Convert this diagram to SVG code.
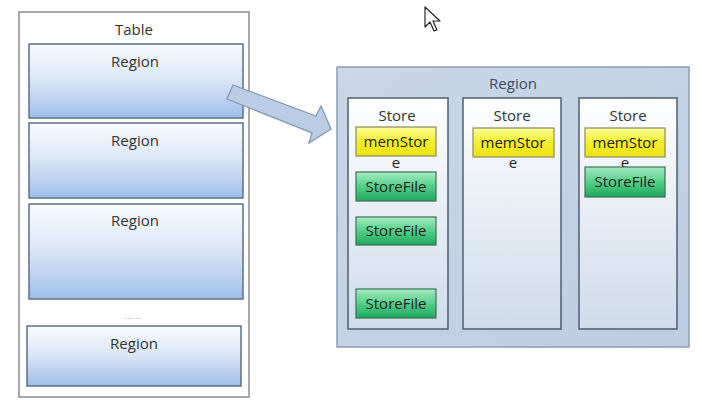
<svg xmlns="http://www.w3.org/2000/svg" width="702" height="411" viewBox="0 0 702 411">
<defs>
<linearGradient id="gRegion" x1="0" y1="0" x2="0" y2="1">
<stop offset="0" stop-color="#f8fbfe"/>
<stop offset="0.45" stop-color="#dde8f6"/>
<stop offset="1" stop-color="#9fbfe9"/>
</linearGradient>
<linearGradient id="gStore" x1="0" y1="0" x2="0" y2="1">
<stop offset="0" stop-color="#ffffff"/>
<stop offset="1" stop-color="#cfdbea"/>
</linearGradient>
<linearGradient id="gMem" x1="0" y1="0" x2="0" y2="1">
<stop offset="0" stop-color="#fbfb9a"/>
<stop offset="0.5" stop-color="#f4ef2a"/>
<stop offset="1" stop-color="#ece212"/>
</linearGradient>
<linearGradient id="gFile" x1="0" y1="0" x2="0" y2="1">
<stop offset="0" stop-color="#a6ecc0"/>
<stop offset="0.5" stop-color="#52cf88"/>
<stop offset="1" stop-color="#1ea75c"/>
</linearGradient>
<linearGradient id="gOuter" x1="0" y1="0" x2="1" y2="1">
<stop offset="0" stop-color="#c9d7e8"/>
<stop offset="1" stop-color="#bccde3"/>
</linearGradient>
</defs>
<style>
text{font-family:"Open Sans","Liberation Sans",sans-serif;text-anchor:middle;fill:#333}
.lbl{font-size:15px}
.reg{fill:url(#gRegion);stroke:#5d6f86;stroke-width:1.5}
.store{fill:url(#gStore);stroke:#4f5d72;stroke-width:1.5}
.mem{fill:url(#gMem);stroke:#8a8a5a;stroke-width:1.2}
.file{fill:url(#gFile);stroke:#3d6e55;stroke-width:1.2}
.box{font-size:15px;fill:#222}
</style>
<rect width="702" height="411" fill="#ffffff"/>

<g id="table">
<rect x="19" y="12" width="230" height="385" fill="#ffffff" stroke="#8c8c8c" stroke-width="1.5"/>
<text class="lbl" x="134" y="35">Table</text>
</g>
<g id="region1">
<rect class="reg" x="29" y="44" width="214" height="74"/>
<text class="lbl" x="135" y="67">Region</text>
</g>
<g id="region2">
<rect class="reg" x="29" y="123" width="214" height="75"/>
<text class="lbl" x="135" y="146">Region</text>
</g>
<g id="region3">
<rect class="reg" x="29" y="204" width="214" height="95"/>
<text class="lbl" x="135" y="226">Region</text>
</g>
<g id="dots">
<text x="133" y="319" style="font-size:9px;fill:#9aa0a8;letter-spacing:0.5px">......</text>
</g>
<g id="region4">
<rect class="reg" x="27" y="326" width="214" height="60"/>
<text class="lbl" x="134" y="349">Region</text>
</g>

<g id="connectors">
<polygon points="233,85 316,116 321,106 331,129 309,143 312,133 227,99" fill="#b9cde5" stroke="#8297b4" stroke-width="1.3" stroke-linejoin="miter"/>
</g>

<g id="regionDetail">
<rect x="337" y="67" width="352" height="280" fill="url(#gOuter)" stroke="#8d9db3" stroke-width="1.5"/>
<text class="lbl" x="513" y="89" style="fill:#3c4a66">Region</text>
</g>

<g id="store1">
<rect class="store" x="348" y="98" width="100" height="231"/>
<text class="lbl" x="397" y="121">Store</text>
</g>
<g id="memstore1">
<rect class="mem" x="356" y="127" width="80" height="29"/>
<text class="box" x="396" y="147">memStor</text>
<text class="box" x="396" y="168">e</text>
</g>
<g id="storefile1a">
<rect class="file" x="356" y="172" width="80" height="29"/>
<text class="box" x="396" y="192">StoreFile</text>
</g>
<g id="storefile1b">
<rect class="file" x="356" y="217" width="80" height="28"/>
<text class="box" x="396" y="236">StoreFile</text>
</g>
<g id="storefile1c">
<rect class="file" x="356" y="289" width="80" height="29"/>
<text class="box" x="396" y="309">StoreFile</text>
</g>

<g id="store2">
<rect class="store" x="463" y="98" width="98" height="231"/>
<text class="lbl" x="512" y="121">Store</text>
</g>
<g id="memstore2">
<rect class="mem" x="473" y="128" width="81" height="29"/>
<text class="box" x="513" y="148">memStor</text>
<text class="box" x="513" y="168">e</text>
</g>

<g id="store3">
<rect class="store" x="579" y="98" width="98" height="231"/>
<text class="lbl" x="628" y="121">Store</text>
</g>
<g id="memstore3">
<rect class="mem" x="585" y="128" width="80" height="29"/>
<text class="box" x="625" y="148">memStor</text>
<text class="box" x="625" y="168">e</text>
</g>
<g id="storefile3">
<rect class="file" x="585" y="167" width="80" height="30"/>
<text class="box" x="625" y="187">StoreFile</text>
</g>

<polygon points="425,7 425,27 430,22 434,31 437,30 433,21 440,21" fill="#ffffff" stroke="#222" stroke-width="1.2" stroke-linejoin="round"/>
</svg>
